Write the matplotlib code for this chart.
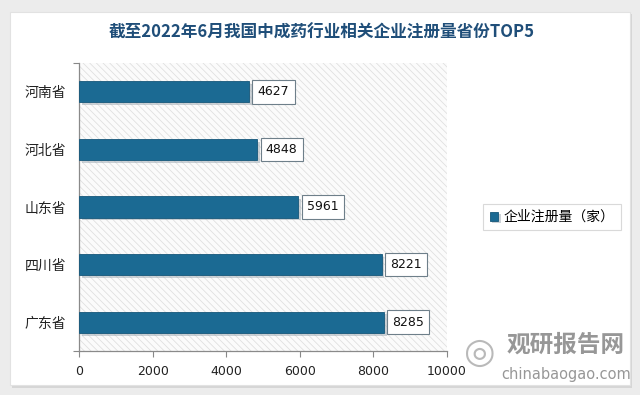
import matplotlib
matplotlib.use("Agg")
import matplotlib.pyplot as plt
from matplotlib.patches import FancyBboxPatch, Rectangle
import matplotlib.patheffects as pe

plt.rcParams['font.family'] = ['Noto Sans CJK SC', 'DejaVu Sans']
plt.rcParams['hatch.linewidth'] = 0.6

provinces = ['河南省', '河北省', '山东省', '四川省', '广东省']
values = [4627, 4848, 5961, 8221, 8285]
series_name = '企业注册量（家）'
title = '截至2022年6月我国中成药行业相关企业注册量省份TOP5'
xticks = [0, 2000, 4000, 6000, 8000, 10000]

W, H = 640, 395
fig = plt.figure(figsize=(W / 100, H / 100), dpi=100)
fig.patch.set_facecolor('#ececec')

# card with shadow
shadow = FancyBboxPatch((12 / W, 1 - 388 / H), 620 / W, 374 / H,
                        boxstyle='square,pad=0', transform=fig.transFigure,
                        facecolor='#d6d6d6', edgecolor='none', zorder=0)
card = FancyBboxPatch((10 / W, 1 - 385 / H), 620 / W, 373 / H,
                      boxstyle='square,pad=0', transform=fig.transFigure,
                      facecolor='white', edgecolor='#e2e2e2', lw=0.8, zorder=1)
fig.patches.extend([shadow, card])

ax = fig.add_axes([79 / W, 1 - 351 / H, (447 - 79) / W, (351 - 63) / H])
ax.set_zorder(2)
ax.patch.set_alpha(0)

ax.add_patch(Rectangle((0, 0), 1, 1, transform=ax.transAxes, hatch='\\\\\\\\\\',
                       edgecolor='#e0e0e0', facecolor='#fbfbfb', lw=0, zorder=0))

ypos = list(range(len(provinces)))
bars = ax.barh(ypos, values, height=0.37, color='#1b6a93', edgecolor='#15577a',
               lw=0.6, zorder=3, label=series_name)
for b in bars:
    b.set_path_effects([pe.SimplePatchShadow(offset=(2, -2), shadow_rgbFace='#9aa7b0', alpha=0.5), pe.Normal()])

for y, v in zip(ypos, values):
    ax.text(v + 230, y, str(v), va='center', ha='left', fontsize=9,
            family=['DejaVu Sans'], color='#111111', zorder=5,
            bbox=dict(boxstyle='square,pad=0.42', facecolor='white',
                      edgecolor='#6e7f8a', lw=0.8),
            path_effects=[])

ax.set_xlim(0, 10000)
ax.set_ylim(4.5, -0.5)
ax.set_xticks(xticks)
ax.set_xticklabels([str(x) for x in xticks], family=['DejaVu Sans'], fontsize=9, color='#222222')
ax.set_yticks(ypos)
ax.set_yticklabels(provinces, fontsize=10, color='#222222')
ax.tick_params(axis='y', length=0, pad=9)
ax.tick_params(axis='x', length=4, color='#888888', width=0.8, pad=6)
ax.set_yticks([-0.5, 4.5], minor=True)
ax.tick_params(axis='y', which='minor', length=4, color='#888888', width=0.8)
for s in ['top', 'right']:
    ax.spines[s].set_visible(False)
for s in ['left', 'bottom']:
    ax.spines[s].set_color('#8a8a8a')
    ax.spines[s].set_linewidth(0.9)

fig.text(322 / W, 1 - 33 / H, title, ha='center', va='center', fontsize=12,
         fontweight='bold', color='#1f4e79')

# legend
leg = fig.legend(handles=[bars], labels=[series_name], loc='center',
                 bbox_to_anchor=(552 / W, 1 - 217 / H), fontsize=10,
                 frameon=True, fancybox=False, handlelength=0.6, handleheight=0.6,
                 handletextpad=0.4, borderpad=0.45, edgecolor='#d0d0d0')
leg.get_frame().set_linewidth(0.8)
leg.set_zorder(4)

# watermark
fig.text(566 / W, 1 - 345 / H, '观研报告网', ha='center', va='center', fontsize=17,
         fontweight='bold', color='#8c8c8c', alpha=0.9, zorder=6)
fig.text(566 / W, 1 - 375 / H, 'chinabaogao.com', ha='center', va='center', fontsize=10.5,
         color='#8c8c8c', alpha=0.9, family=['DejaVu Sans'], zorder=6)
fig.text(480 / W, 1 - 353 / H, '◎', ha='center', va='center', fontsize=26,
         color='#a8a8a8', alpha=0.8, family=['DejaVu Sans'], zorder=6)

fig.savefig('out.png', dpi=100, facecolor=fig.get_facecolor())
